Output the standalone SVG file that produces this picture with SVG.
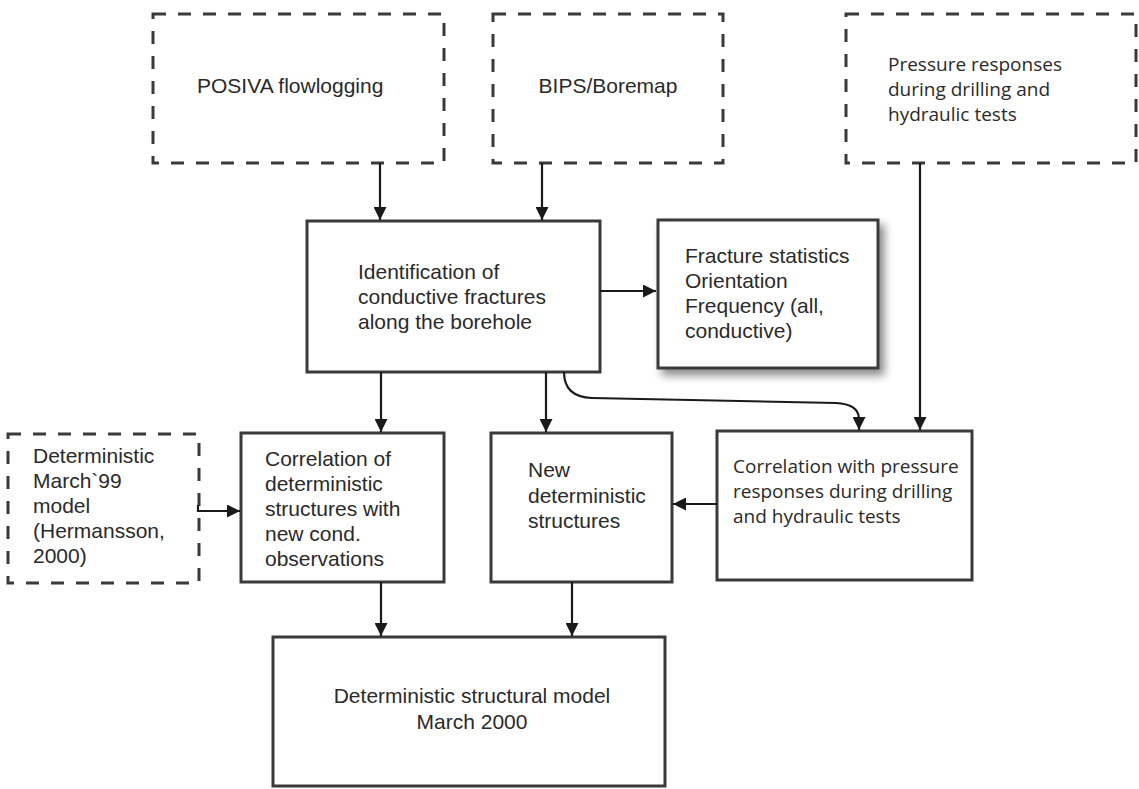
<svg xmlns="http://www.w3.org/2000/svg" width="1139" height="789" viewBox="0 0 1139 789">
<style>
.dash{fill:#fff;stroke:#3a3a3a;stroke-width:3;stroke-dasharray:13 12}
.box{fill:#fff;stroke:#3a3a3a;stroke-width:3}
.t{font-family:"Liberation Sans",Arial,sans-serif;font-size:21px;fill:#2a2a2a}
.m{font-family:"Open Sans","Noto Sans",sans-serif;font-size:19px;fill:#2a2a2a}
.c{fill:none;stroke:#1a1a1a;stroke-width:2.2}
</style>
<defs>
<marker id="ah" viewBox="0 0 10 10" refX="10" refY="5" markerWidth="14" markerHeight="13" markerUnits="userSpaceOnUse" orient="auto">
<path d="M0,0 L10,5 L0,10 z" fill="#1a1a1a"/>
</marker>
<filter id="sh" x="-10%" y="-10%" width="130%" height="130%">
<feDropShadow dx="5" dy="6" stdDeviation="4" flood-color="#000" flood-opacity="0.45"/>
</filter>
</defs>
<rect width="1139" height="789" fill="#fff"/>

<g id="posiva">
<rect class="dash" x="153" y="14" width="291" height="149"/>
<text class="t" x="197" y="93">POSIVA flowlogging</text>
</g>
<g id="bips">
<rect class="dash" x="493" y="14" width="230" height="149"/>
<text class="t" x="608" y="93" text-anchor="middle">BIPS/Boremap</text>
</g>
<g id="pressure">
<rect class="dash" x="846" y="14" width="290" height="149"/>
<text class="m" x="888"><tspan x="888" y="71">Pressure responses</tspan><tspan x="888" y="96">during drilling and</tspan><tspan x="888" y="121">hydraulic tests</tspan></text>
</g>
<g id="identification">
<rect class="box" x="307" y="221" width="293" height="151"/>
<text class="t"><tspan x="358" y="279">Identification of</tspan><tspan x="358" y="304">conductive fractures</tspan><tspan x="358" y="329">along the borehole</tspan></text>
</g>
<g id="fracture">
<rect class="box" x="658" y="220" width="220" height="148" filter="url(#sh)"/>
<text class="t"><tspan x="685" y="263">Fracture statistics</tspan><tspan x="685" y="288">Orientation</tspan><tspan x="685" y="313">Frequency (all,</tspan><tspan x="685" y="338">conductive)</tspan></text>
</g>
<g id="march99">
<rect class="dash" x="8" y="434" width="191" height="149"/>
<text class="t"><tspan x="33" y="463">Deterministic</tspan><tspan x="33" y="488">March`99</tspan><tspan x="33" y="513">model</tspan><tspan x="33" y="538">(Hermansson,</tspan><tspan x="33" y="563">2000)</tspan></text>
</g>
<g id="correlation-det">
<rect class="box" x="241" y="433" width="203" height="149"/>
<text class="t"><tspan x="265" y="466">Correlation of</tspan><tspan x="265" y="491">deterministic</tspan><tspan x="265" y="516">structures with</tspan><tspan x="265" y="541">new cond.</tspan><tspan x="265" y="566">observations</tspan></text>
</g>
<g id="new-det">
<rect class="box" x="491" y="433" width="181" height="149"/>
<text class="t"><tspan x="528" y="477">New</tspan><tspan x="528" y="503">deterministic</tspan><tspan x="528" y="528">structures</tspan></text>
</g>
<g id="correlation-pressure">
<rect class="box" x="717" y="431" width="255" height="149"/>
<text class="m"><tspan x="733" y="473">Correlation with pressure</tspan><tspan x="733" y="498">responses during drilling</tspan><tspan x="733" y="523">and hydraulic tests</tspan></text>
</g>
<g id="final">
<rect class="box" x="273" y="637" width="392" height="149"/>
<text class="t" text-anchor="middle"><tspan x="472" y="703">Deterministic structural model</tspan><tspan x="472" y="729">March 2000</tspan></text>
</g>

<g id="connectors">
<path class="c" d="M380,163 V220" marker-end="url(#ah)"/>
<path class="c" d="M542,163 V220" marker-end="url(#ah)"/>
<path class="c" d="M920,163 V430" marker-end="url(#ah)"/>
<path class="c" d="M600,291 H656" marker-end="url(#ah)"/>
<path class="c" d="M381,372 V432" marker-end="url(#ah)"/>
<path class="c" d="M546,372 V432" marker-end="url(#ah)"/>
<path class="c" d="M564,372 Q564,397 592,398 L836,403 Q858,404 859,418 L859,430" marker-end="url(#ah)"/>
<path class="c" d="M198,505 V511 H240" marker-end="url(#ah)"/>
<path class="c" d="M717,504 H673" marker-end="url(#ah)"/>
<path class="c" d="M381,582 V636" marker-end="url(#ah)"/>
<path class="c" d="M572,582 V636" marker-end="url(#ah)"/>
</g>
</svg>
